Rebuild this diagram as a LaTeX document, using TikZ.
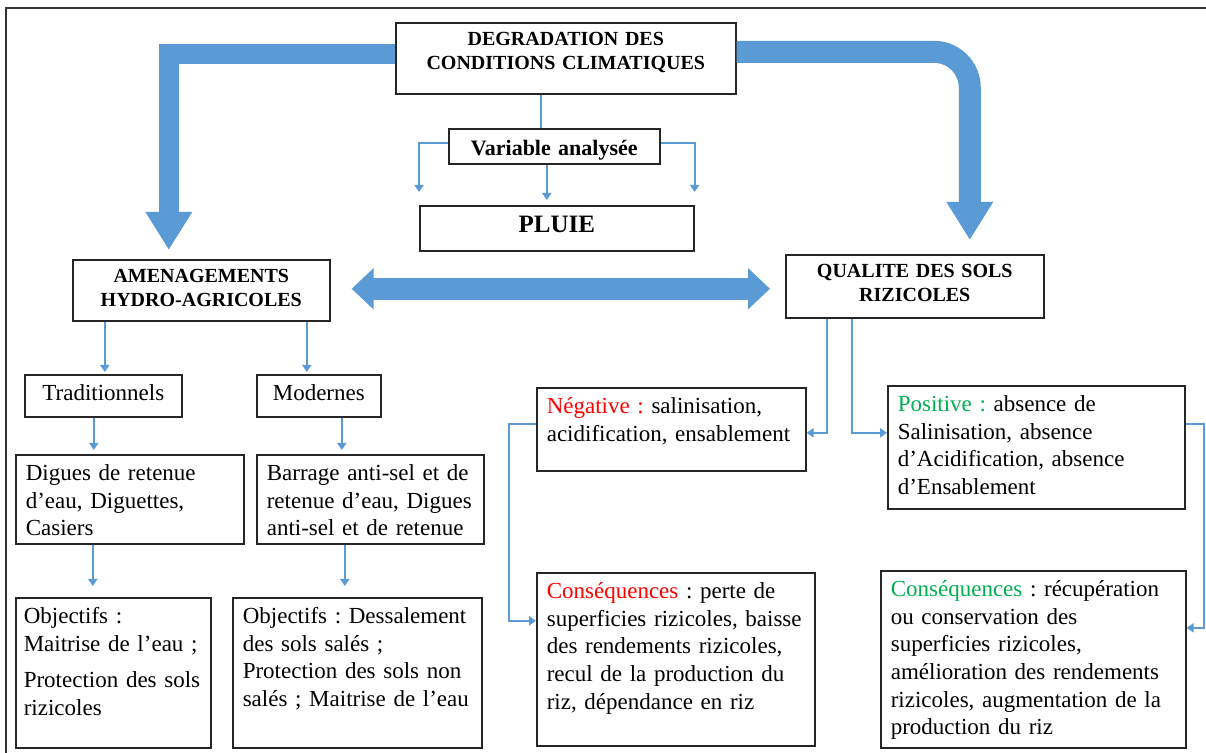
\documentclass[tikz,border=0pt]{standalone}
\usepackage{fontspec}
\setmainfont{Liberation Serif}
\frenchspacing
\usetikzlibrary{positioning,arrows.meta,calc}
\definecolor{arrblue}{RGB}{91,155,213}
\definecolor{negred}{RGB}{255,0,0}
\definecolor{posgreen}{RGB}{0,176,80}
\tikzset{
  box/.style ={draw=black!85, line width=0.8pt, anchor=north west, inner xsep=5pt,
               inner ysep=4pt, align=left, font=\fontsize{11.5}{13.8}\selectfont,
               text height=9pt},
  hdr/.style ={box, align=center, font=\bfseries\fontsize{10}{12}\selectfont,
               text height=7.5pt},
  fl/.style  ={draw=arrblue, line width=1pt, -{Triangle[length=3.5pt,width=4.5pt]}},
  ln/.style  ={draw=arrblue, line width=1pt},
  fat/.style ={draw=arrblue, line width=10pt, line join=miter,
               -{Triangle[length=19pt,width=22pt]}},
  dbl/.style ={draw=arrblue, line width=11pt,
               {Triangle[length=11pt,width=20pt]}-{Triangle[length=11pt,width=20pt]}},
  frm/.style ={draw=black!80, line width=1pt}
}

\begin{document}
\begin{tikzpicture}[x=0.5pt,y=-0.5pt]
  \useasboundingbox (0,0) rectangle (1206,753);
  \draw[frm] (6,753) -- (6,8) -- (1206,8);

  % top: climate and rain
  \node[hdr, text width=160pt, text depth=20pt](deg) at (395,22)
       {DEGRADATION DES\\CONDITIONS CLIMATIQUES};
  \node[hdr, text width=95.5pt, text depth=0pt, text height=9.5pt,
        font=\bfseries\fontsize{11}{13}\selectfont](var) at (448,128){Variable analysée};
  \node[hdr, text width=127pt, text depth=5pt, text height=9.5pt,
        font=\bfseries\fontsize{12.5}{14}\selectfont](pluie) at (419,205){PLUIE};

  % the two main themes
  \node[hdr, text width=118.5pt, text depth=15pt](amen) at (72,259)
       {AMENAGEMENTS\\HYDRO-AGRICOLES};
  \node[hdr, text width=119pt, text depth=16pt](qual) at (785,254)
       {QUALITE DES SOLS\\RIZICOLES};

  % left branch
  \node[box, align=center, text width=68.5pt, text depth=4pt](trad) at (24,374){Traditionnels};
  \node[box, align=center, text width=52pt, text depth=4pt](mod) at (256,374){Modernes};
  \node[box, text width=104pt, text depth=27.5pt](dig) at (15,454)
       {Digues de retenue\\d’eau, Diguettes,\\Casiers};
  \node[box, text width=103.5pt, text depth=27.5pt](bar) at (256,454)
       {Barrage anti-sel et de\\retenue d’eau, Digues\\anti-sel et de retenue};
  \node[box, inner xsep=4pt, text width=89.5pt, text depth=58pt](obj1) at (15,597)
       {Objectifs :\\Maitrise de l’eau ;\\[4.25pt]Protection des sols\\rizicoles};
  \node[box, text width=114.5pt, text depth=58pt](obj2) at (232,597)
       {Objectifs : Dessalement\\des sols salés ;\\Protection des sols non\\salés ; Maitrise de l’eau};

  % right branch
  \node[box, text width=124.5pt, text depth=24.5pt](neg) at (536,387)
       {{\color{negred}Négative :} salinisation,\\acidification, ensablement};
  \node[box, text width=138.5pt, text depth=44.5pt](pos) at (887,385)
       {{\color{posgreen}Positive :} absence de\\Salinisation, absence\\d’Acidification, absence\\d’Ensablement};
  \node[box, text width=129pt, text depth=69.5pt](cneg) at (536,572)
       {{\color{negred}Conséquences} : perte de\\superficies rizicoles, baisse\\des rendements rizicoles,\\recul de la production du\\riz, dépendance en riz};
  \node[box, text width=142.5pt, text depth=71.5pt](cpos) at (880,570)
       {{\color{posgreen}Conséquences} : récupération\\ou conservation des\\superficies rizicoles,\\amélioration des rendements\\rizicoles, augmentation de la\\production du riz};

  % big arrows
  \draw[fat] ([yshift=2.25pt]deg.west) -| ([xshift=-16.25pt,yshift=4.5pt]amen.north);
  \draw[fat, line width=11pt, rounded corners=18pt]
       ([yshift=3.25pt]deg.east) -| ([xshift=27.5pt,yshift=7pt]qual.north);
  \draw[dbl] ([xshift=10.5pt,yshift=0.75pt]amen.east)
        -- ([xshift=-7.5pt,yshift=0.75pt]amen.east -| qual.west);

  % thin connectors
  \draw[ln] ([xshift=-12.5pt]deg.south) -- ([xshift=-12.5pt]deg.south |- var.north);
  \draw[fl] ([yshift=1.75pt]var.west) -| ([yshift=6.5pt]pluie.north west);
  \draw[fl] ([yshift=1.75pt]var.east) -| ([yshift=6.5pt]pluie.north east);
  \draw[fl] ([xshift=-3.75pt]var.south) -- ([xshift=-3.75pt,yshift=2.5pt]var.south |- pluie.north);

  \draw[fl] ([xshift=0.75pt]trad.north |- amen.south) -- ([xshift=0.75pt,yshift=1pt]trad.north);
  \draw[fl] ([xshift=-6pt]mod.north |- amen.south) -- ([xshift=-6pt,yshift=1pt]mod.north);
  \draw[fl] ([xshift=-4.75pt]trad.south) -- ([xshift=-4.75pt,yshift=2pt]trad.south |- dig.north);
  \draw[fl] ([xshift=11.5pt]mod.south) -- ([xshift=11.5pt,yshift=2pt]mod.south |- bar.north);
  \draw[fl] ([xshift=-18.5pt]dig.south) -- ([xshift=-18.5pt,yshift=5.5pt]dig.south |- obj1.north);
  \draw[fl] ([xshift=-12.75pt]bar.south) -- ([xshift=-12.75pt,yshift=5.5pt]bar.south |- obj2.north);

  \draw[fl] ([xshift=-44pt]qual.south) |- ([yshift=-1.75pt]neg.east);
  \draw[fl] ([xshift=-31.5pt]qual.south) |- ([yshift=-1.75pt]neg.east -| pos.west);
  \draw[fl] ([yshift=2.75pt]neg.west) -- ++(-13.5pt,0) |- ([yshift=19.25pt]cneg.west);
  \draw[fl] ([yshift=11.75pt]pos.east) -- ++(9pt,0) |- ([yshift=15.75pt]cpos.east);
\end{tikzpicture}
\end{document}
